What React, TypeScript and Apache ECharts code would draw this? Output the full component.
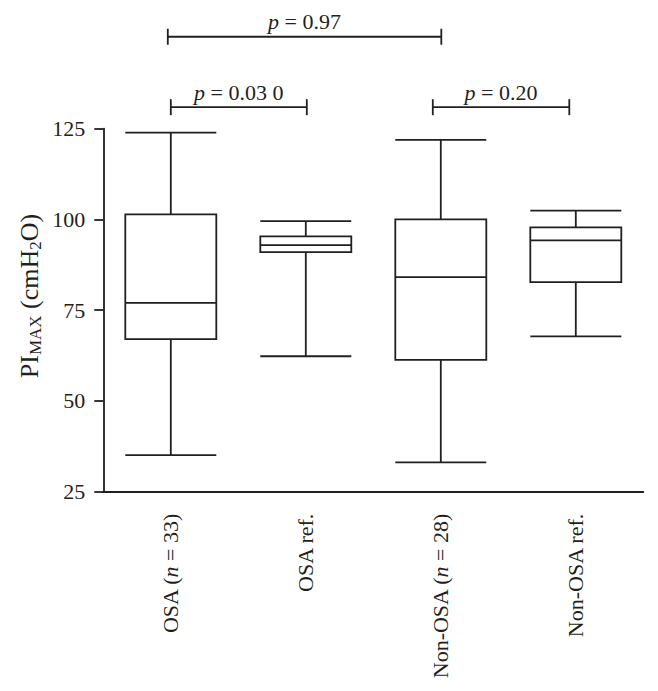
import React, { useEffect, useRef } from 'react';
import * as echarts from 'echarts';

const categories = ['OSA (n = 33)', 'OSA ref.', 'Non-OSA (n = 28)', 'Non-OSA ref.'];
const categoryLabels = [
  '{r|OSA (}{i|n}{r| = 33)}',
  '{r|OSA ref.}',
  '{r|Non-OSA (}{i|n}{r| = 28)}',
  '{r|Non-OSA ref.}',
];
const whiskerLow = [35.1, 62.3, 33.1, 67.8];
const quartile1 = [67.0, 91.0, 61.3, 82.7];
const medians = [77.0, 92.9, 84.1, 94.2];
const quartile3 = [101.4, 95.3, 100.0, 97.8];
const whiskerHigh = [123.9, 99.5, 121.9, 102.4];
const yTicks = [25, 50, 75, 100, 125];

const compFrom = [0, 0, 2];
const compTo = [2, 1, 3];
const compLevel = [150.3, 130.9, 130.9];
const compP = ['0.97', '0.03 0', '0.20'];
const compFromShift = [-3, 0, -8];
const compToShift = [0.5, 1, -6.5];

const INK = '#231f20';
const FONT = 'Liberation Serif';

export default function App() {
  const ref = useRef<HTMLDivElement>(null);
  useEffect(() => {
    if (!ref.current) return;
    const chart = echarts.init(ref.current, null, { renderer: 'svg' });
    const boxData = categories.map((_, i) => [
      whiskerLow[i], quartile1[i], medians[i], quartile3[i], whiskerHigh[i],
    ]);
    chart.setOption({
      animation: false,
      grid: { left: 103.3, top: 128.6, right: 14.7, bottom: 199.3, containLabel: false, outerBoundsMode: 'none' },
      xAxis: {
        type: 'category',
        data: categories,
        boundaryGap: true,
        axisLine: { lineStyle: { color: INK, width: 1.8 } },
        axisTick: { alignWithLabel: true, length: 9, lineStyle: { color: INK, width: 1.8 } },
        axisLabel: {
          rotate: 90,
          margin: 22,
          interval: 0,
          fontFamily: FONT,
          fontSize: 22,
          formatter: (_v: string, i: number) => categoryLabels[i],
          rich: {
            r: { fontFamily: FONT, fontSize: 22, color: INK },
            i: { fontFamily: FONT, fontSize: 22, color: INK, fontStyle: 'italic' },
          },
        },
        splitLine: { show: false },
      },
      yAxis: {
        type: 'value',
        min: yTicks[0],
        max: yTicks[yTicks.length - 1],
        interval: 25,
        axisLine: { show: true, lineStyle: { color: INK, width: 1.8 } },
        axisTick: { show: true, length: 9, lineStyle: { color: INK, width: 1.8 } },
        axisLabel: { fontFamily: FONT, fontSize: 22, color: INK, margin: 18 },
        splitLine: { show: false },
      },
      series: [
        {
          type: 'boxplot',
          data: boxData,
          boxWidth: [91, 91],
          itemStyle: { color: '#ffffff', borderColor: INK, borderWidth: 1.8 },
        },
      ],
    });

    const graphics: any[] = [];
    for (let k = 0; k < compFrom.length; k++) {
      const x1 = (chart.convertToPixel({ xAxisIndex: 0 }, categories[compFrom[k]]) as number) + compFromShift[k];
      const x2 = (chart.convertToPixel({ xAxisIndex: 0 }, categories[compTo[k]]) as number) + compToShift[k];
      const y = chart.convertToPixel({ yAxisIndex: 0 }, compLevel[k]) as number;
      const ls = { stroke: INK, lineWidth: 1.8 };
      graphics.push({ type: 'line', shape: { x1, y1: y, x2, y2: y }, style: ls });
      graphics.push({ type: 'line', shape: { x1, y1: y - 8, x2: x1, y2: y + 8 }, style: ls });
      graphics.push({ type: 'line', shape: { x1: x2, y1: y - 8, x2, y2: y + 8 }, style: ls });
      graphics.push({
        type: 'text',
        x: (x1 + x2) / 2,
        y: y - 4,
        style: {
          text: '{i|p}{r| = ' + compP[k] + '}',
          align: 'center',
          verticalAlign: 'bottom',
          fontFamily: FONT,
          fontSize: 22,
          rich: {
            i: { fontFamily: FONT, fontSize: 22, fill: INK, fontStyle: 'italic' },
            r: { fontFamily: FONT, fontSize: 22, fill: INK },
          },
        },
      });
    }
    graphics.push({
      type: 'text',
      x: 29,
      y: 296,
      rotation: Math.PI / 2,
      style: {
        text: '{r|PI}{s|MAX}{r| (cmH}{s|2}{r|O)}',
        align: 'center',
        verticalAlign: 'middle',
        fontFamily: FONT,
        fontSize: 26,
        rich: {
          r: { fontFamily: FONT, fontSize: 26, lineHeight: 30, fill: INK },
          s: { fontFamily: FONT, fontSize: 17, lineHeight: 17, padding: [12, 0, 0, 0], fill: INK },
        },
      },
    });
    chart.setOption({ graphic: graphics });

    return () => chart.dispose();
  }, []);
  return (
    <div
      ref={ref}
      style={{ position: 'fixed', left: 0, top: 0, width: 658, height: 691, background: '#ffffff' }}
    />
  );
}
